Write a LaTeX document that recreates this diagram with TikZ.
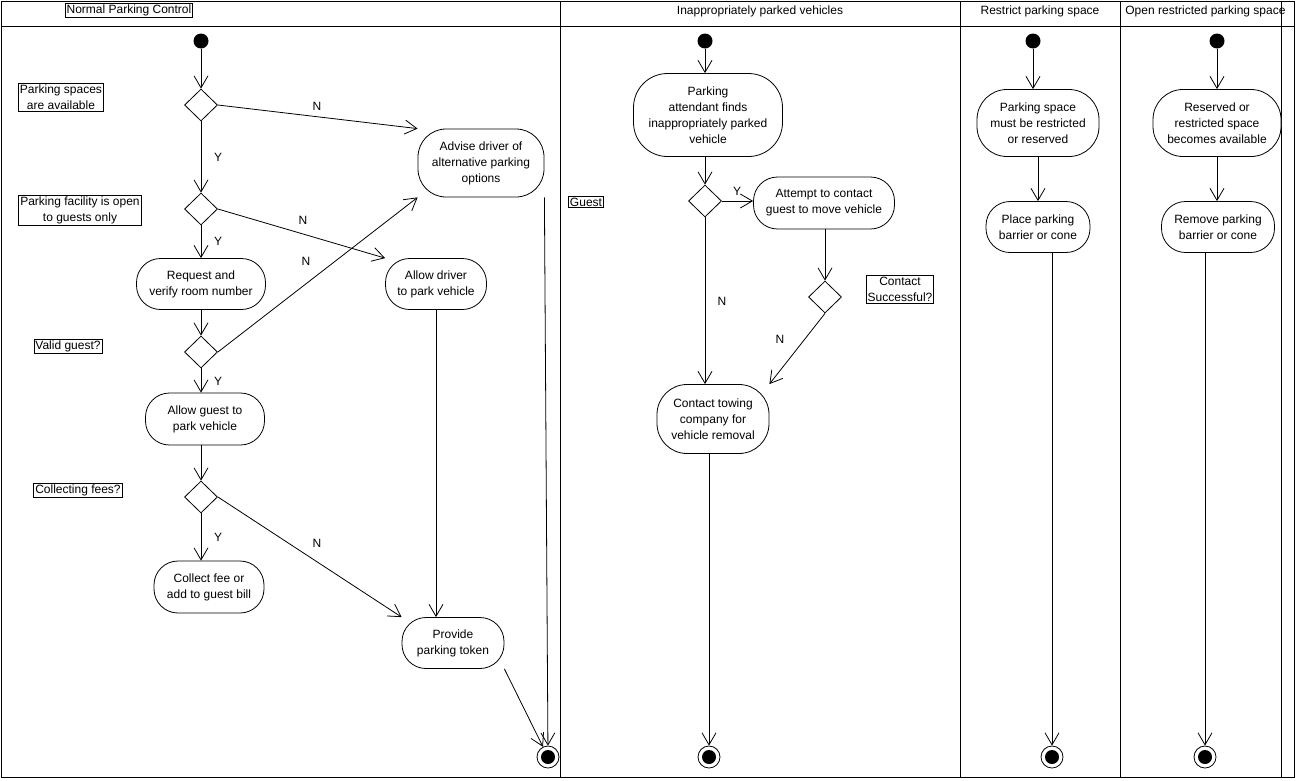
\documentclass[tikz,border=0pt]{standalone}
\usepackage{fontspec}
\setmainfont{Liberation Sans}
\usetikzlibrary{shapes.geometric,arrows.meta}
\begin{document}
\begin{tikzpicture}[x=1pt,y=-1pt,line width=0.8pt,
  every node/.style={font=\fontsize{12}{16}\selectfont, inner sep=0pt},
  act/.style={draw, rounded corners=24pt, align=center, fill=white},
  dec/.style={draw, diamond, minimum width=33pt, minimum height=32pt, fill=white},
  startn/.style={circle, fill=black, minimum size=15pt},
  endn/.style={circle, draw, fill=white, minimum size=22pt,
    path picture={\fill[black] (path picture bounding box.center) circle (7pt);}},
  note/.style={draw, align=center, inner sep=1.5pt, fill=white},
  lbl/.style={},
  flow/.style={draw, -{Straight Barb[length=12pt,width=14pt]}}]
\useasboundingbox (0,0) rectangle (1296,780);
\fill[white] (0,0) rectangle (1296,780);
% frame and lanes
\draw (1,1) rectangle (1294,777);
\draw (1,26) -- (1294,26);
\foreach \lx in {560,960,1120,1281} \draw (\lx,1) -- (\lx,777);
\node[draw, inner sep=1.5pt] (h1) at (129,10.5) {Normal Parking Control};
\node (h2) at (760,11) {Inappropriately parked vehicles};
\node (h3) at (1040,11) {Restrict parking space};
\begin{scope}
\clip (1121,2) rectangle (1292,25);
\node[anchor=west] (h4) at (1125,11) {Open restricted parking space};
\end{scope}

% lane 1
\node[startn] (s1) at (201,41) {};
\node[dec] (d1) at (201,105) {};
\node[dec] (d2) at (201,209) {};
\node[act, minimum width=129pt, minimum height=51pt] (rq) at (201,284) {Request and\\verify room number};
\node[dec] (d3) at (201,352) {};
\node[act, minimum width=119pt, minimum height=52pt] (ag) at (205,419) {Allow guest to\\park vehicle};
\node[dec] (d4) at (201,497) {};
\node[act, minimum width=110pt, minimum height=52pt] (cf) at (209,587) {Collect fee or\\add to guest bill};
\node[act, minimum width=126pt, minimum height=68pt, rounded corners=28pt] (adv) at (481,163) {Advise driver of\\alternative parking\\options};
\node[act, minimum width=101pt, minimum height=51pt] (ad) at (436,284) {Allow driver\\to park vehicle};
\node[act, minimum width=102pt, minimum height=51pt] (pt) at (453,643) {Provide\\parking token};
\node[endn] (e1) at (548,757) {};
\node[note] (n1) at (61,97.5) {Parking spaces\\are available};
\node[note] (n2) at (80,210) {Parking facility is open\\to guests only};
\node[note] (n3) at (68,346.5) {Valid guest?};
\node[note] (n4) at (78,490) {Collecting fees?};

\draw[flow] (s1) -- (d1.north);
\draw[flow] (d1.east) -- (adv.north west);
\node[lbl] (l1) at (317,106) {N};
\draw[flow] (d1.south) -- (d2.north);
\node[lbl] (l2) at (218,157) {Y};
\draw[flow] (d2.east) -- (ad.north west);
\node[lbl] (l3) at (303,220) {N};
\draw[flow] (d2.south) -- (d2.south |- rq.north);
\node[lbl] (l4) at (218,241) {Y};
\draw[flow] (d3 |- rq.south) -- (d3.north);
\draw[flow] (d3.east) -- (adv.south west);
\node[lbl] (l5) at (306,261) {N};
\draw[flow] (d3.south) -- (d3.south |- ag.north);
\node[lbl] (l6) at (218,381) {Y};
\draw[flow] (d4 |- ag.south) -- (d4.north);
\draw[flow] (d4.south) -- (d4.south |- cf.north);
\node[lbl] (l7) at (218,537) {Y};
\draw[flow] (d4.east) -- (pt.north west);
\node[lbl] (l8) at (317,543) {N};
\draw[flow] (ad.south) -- (ad.south |- pt.north);
\draw[flow] (pt.south east) -- (e1);
\draw[flow] (adv.south east) -- (e1);

% lane 2
\node[startn] (s2) at (705,41) {};
\node[act, minimum width=149pt, minimum height=83pt, rounded corners=34pt] (pa) at (708,115) {Parking\\attendant finds\\inappropriately parked\\vehicle};
\node[dec] (d5) at (705,201) {};
\node[act, minimum width=141pt, minimum height=52pt] (at) at (824,203) {Attempt to contact\\guest to move vehicle};
\node[dec] (d6) at (825,297) {};
\node[act, minimum width=112pt, minimum height=69pt, rounded corners=30pt] (tw) at (713,419) {Contact towing\\company for\\vehicle removal};
\node[endn] (e2) at (709,757) {};
\node[note] (ng) at (586,202) {Guest};
\node[note] (nc) at (900,289.5) {Contact\\Successful?};

\draw[flow] (s2) -- (s2 |- pa.north);
\draw[flow] (d5 |- pa.south) -- (d5.north);
\draw[flow] (d5.east) -- (d5.east -| at.west);
\node[lbl] (l9) at (737,191) {Y};
\draw[flow] (d6 |- at.south) -- (d6.north);
\draw[flow] (d6.south) -- (tw.north east);
\node[lbl] (l10) at (780,339) {N};
\draw[flow] (d5.south) -- (d5.south |- tw.north);
\node[lbl] (l11) at (722,301) {N};
\draw[flow] (e2 |- tw.south) -- (e2);

% lane 3
\node[startn] (s3) at (1033,41) {};
\node[act, minimum width=122pt, minimum height=67pt, rounded corners=30pt] (r1) at (1038,123) {Parking space\\must be restricted\\or reserved};
\node[act, minimum width=104pt, minimum height=51pt] (r2) at (1038,227) {Place parking\\barrier or cone};
\node[endn] (e3) at (1052,757) {};
\draw[flow] (s3) -- (s3 |- r1.north);
\draw[flow] (r1.south) -- (r2.north);
\draw[flow] (e3 |- r2.south) -- (e3);

% lane 4
\node[startn] (s4) at (1217,41) {};
\node[act, minimum width=128pt, minimum height=67pt, rounded corners=30pt] (o1) at (1217,123) {Reserved or\\restricted space\\becomes available};
\node[act, minimum width=113pt, minimum height=51pt] (o2) at (1218,227) {Remove parking\\barrier or cone};
\node[endn] (e4) at (1205,757) {};
\draw[flow] (s4) -- (s4 |- o1.north);
\draw[flow] (s4 |- o1.south) -- (s4 |- o2.north);
\draw[flow] (e4 |- o2.south) -- (e4);
\end{tikzpicture}
\end{document}
